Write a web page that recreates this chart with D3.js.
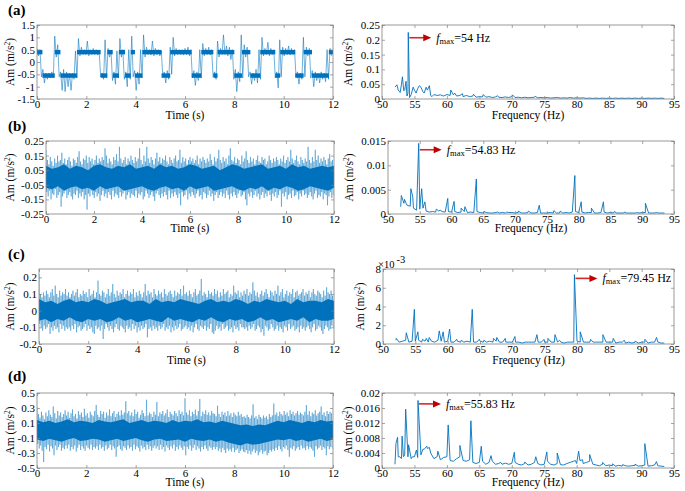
<!DOCTYPE html>
<html>
<head>
<meta charset="utf-8">
<script src="https://cdn.jsdelivr.net/npm/d3@7"></script>
<style>
  body { margin: 0; background: #fff; }
</style>
</head>
<body>
<div id="chart"></div>
<script>
// ---- data ----
const timeTicks = [0, 2, 4, 6, 8, 10, 12];
const freqTicks = [50, 55, 60, 65, 70, 75, 80, 85, 90, 95];

// (a): 100 bins of 0.12 s, upper / lower extreme per bin (m/s^2)
const hiA = [.55,.5,-.3,-.45,-.45,-.4,1.05,.7,-.4,-.3,
  -.4,-.45,-.45,.45,.95,.6,.5,.85,.5,.55,
  .5,.45,-.45,.9,.55,.45,-.4,.45,.95,.5,
  -.4,.5,1.05,-.35,-.4,.5,1.1,.6,.5,.85,
  .55,.5,.45,-.4,-.35,.6,1.0,.55,.5,.5,
  .55,.6,.5,-.35,-.4,.5,.75,.55,.6,.5,
  -.4,.85,.55,1.1,.65,.6,.5,-.3,-.4,1.1,
  .7,.6,-.4,-.45,-.3,.5,1.0,.55,.8,.55,
  .5,-.4,.9,.6,.55,.65,.55,.5,-.4,-.45,
  1.0,.6,.55,-.35,-.4,-.45,-.4,-.45,.5,.55];
const loA = [.25,-.6,-.85,-.7,-.65,-.65,.2,-.6,-1.15,-1.2,
  -1.0,-1.15,-.7,-.65,.25,.3,.3,.25,.3,.3,
  .28,-.6,-.7,-.65,.2,-.75,-.9,-.65,.2,-.7,
  -1.0,-.7,-.6,-1.15,-.9,-.65,.2,.3,.28,.25,
  .3,.25,-.6,-.85,-.7,-.5,.25,.3,.3,.28,
  .3,.25,-.65,-.95,-.75,-.65,.25,.3,.28,-.6,
  -.7,.2,.3,.3,.25,.1,-.7,-1.2,-.8,-.65,
  .2,-.6,-.9,-.75,-.85,-.7,.25,.3,.25,.3,
  -.65,-1.05,-.6,.25,.3,.28,.3,-.6,-.9,-.7,
  -.6,.25,-.65,-1.0,-.75,-.85,-.7,-.8,-.7,.25];
// switching instants of signal (a), first segment high
const edgesA = [0,.22,.72,.95,1.62,2.58,2.85,3.07,3.32,3.57,3.8,3.97,4.27,5.05,5.4,
  6.27,6.66,7.15,7.32,8.0,8.31,8.65,9.05,9.66,9.86,10.47,10.81,11.15,11.83,12];
const levelsA = [0.4, -0.55];
const bandA = 0.09;

// (b)-(d): 200 bins of 0.06 s, extremes in units of 0.01 m/s^2
const hiB = [19,12,9,14,11,8,13,10,15,11,12,17,10,13,9,12,14,11,8,13,
  12,10,14,18,11,9,13,12,15,10,14,11,13,9,12,15,10,13,11,14,
  12,20,15,10,13,11,9,14,12,16,11,21,13,10,12,14,9,13,11,15,
  12,10,14,11,13,20,12,9,15,11,21,13,10,14,12,9,13,17,11,14,
  10,13,12,15,11,9,14,12,10,13,15,11,12,19,10,14,11,13,9,12,
  14,11,13,10,12,15,9,13,11,14,12,10,13,11,16,12,9,14,11,13,
  19,12,10,14,11,13,9,15,20,12,11,14,10,13,12,9,15,11,13,18,
  12,10,14,11,13,9,12,15,11,10,14,12,13,9,11,15,12,10,13,11,
  14,12,9,13,11,15,10,12,14,11,19,13,10,12,15,11,9,14,12,10,
  13,11,21,12,10,14,11,19,12,15,10,13,11,14,12,9,13,16,11,12];
const loB = [-10,-13,-9,-15,-11,-12,-8,-14,-12,-10,-20,-13,-11,-9,-14,-12,-10,-13,-15,-11,
  -12,-9,-14,-11,-13,-10,-15,-12,-22,-11,-13,-9,-12,-14,-10,-13,-11,-16,-12,-9,
  -13,-11,-14,-10,-12,-15,-9,-13,-11,-12,-14,-10,-13,-11,-9,-15,-12,-10,-14,-11,
  -12,-13,-9,-14,-11,-12,-10,-15,-13,-9,-11,-14,-12,-10,-13,-16,-11,-9,-12,-14,
  -11,-13,-10,-12,-15,-9,-14,-11,-13,-10,-12,-14,-11,-19,-10,-13,-12,-9,-15,-11,
  -13,-10,-12,-14,-11,-9,-13,-12,-15,-10,-11,-14,-12,-9,-13,-11,-16,-12,-10,-14,
  -12,-10,-13,-11,-14,-9,-12,-15,-11,-13,-10,-12,-14,-11,-9,-13,-12,-10,-15,-19,
  -11,-13,-10,-14,-12,-9,-13,-11,-15,-12,-10,-14,-11,-13,-9,-12,-16,-11,-13,-10,
  -14,-12,-9,-20,-11,-13,-10,-15,-12,-11,-14,-9,-13,-12,-10,-15,-11,-13,-9,-12,
  -11,-14,-12,-10,-13,-15,-11,-9,-14,-12,-13,-10,-15,-11,-12,-19,-13,-10,-14,-12];
// dense core of the noisy signals, every 0.25 s, units of 0.01 m/s^2
const coreHiB = [8,6,7,9,6,8,7,5,8,9,7,6,8,7,9,6,7,8,6,9,7,8,6,7,9,8,6,7,8,5,7,9,8,6,7,8,9,6,7,8,6,9,7,8,6,7,8,7,8];
const coreLoB = [-7,-8,-6,-9,-7,-6,-8,-7,-9,-6,-8,-7,-6,-9,-8,-7,-6,-8,-9,-7,-6,-8,-7,-9,-6,-8,-7,-6,-9,-8,-7,-6,-8,-9,-7,-8,-6,-9,-7,-8,-6,-7,-9,-8,-6,-7,-8,-9,-7];

const hiC = [22,10,8,11,9,12,10,8,11,13,9,15,10,8,12,9,11,10,13,9,
  11,8,10,12,9,11,13,8,10,9,12,10,11,8,13,9,10,12,8,11,
  18,10,9,12,11,8,10,13,9,11,16,10,8,12,9,11,10,13,8,10,
  12,9,11,10,13,8,11,9,12,10,8,11,16,9,12,10,11,8,13,10,
  9,12,10,11,8,13,10,9,11,12,10,8,12,9,11,10,13,9,15,10,
  11,9,12,10,8,11,13,9,10,12,19,9,11,10,8,12,10,11,9,13,
  10,12,8,11,9,13,10,11,12,8,10,9,15,11,10,12,8,11,9,12,
  10,13,9,11,10,17,12,9,11,8,10,12,9,11,13,10,8,12,11,9,
  12,10,15,9,11,13,8,10,12,9,11,10,13,8,11,12,9,10,11,13,
  9,11,10,12,8,11,13,10,9,12,11,10,8,12,9,14,11,10,12,9];
const loC = [-8,-10,-12,-9,-11,-10,-8,-14,-10,-12,-9,-11,-10,-13,-8,-11,-9,-12,-10,-11,
  -10,-12,-9,-11,-8,-13,-10,-9,-12,-11,-10,-8,-12,-9,-11,-10,-13,-14,-9,-11,
  -10,-12,-9,-17,-11,-8,-10,-12,-9,-11,-13,-10,-8,-11,-12,-9,-10,-11,-13,-9,
  -11,-10,-12,-8,-11,-9,-13,-10,-12,-9,-11,-10,-8,-16,-11,-10,-12,-9,-11,-10,
  -12,-9,-11,-10,-8,-12,-10,-11,-9,-13,-10,-12,-9,-11,-10,-8,-12,-11,-10,-9,
  -11,-10,-12,-9,-13,-10,-8,-11,-12,-9,-10,-11,-9,-12,-10,-11,-8,-13,-14,-12,
  -9,-11,-10,-12,-8,-11,-10,-9,-12,-11,-10,-13,-9,-11,-10,-12,-8,-10,-10,-11,
  -10,-12,-9,-11,-10,-8,-12,-11,-9,-10,-13,-11,-15,-9,-10,-12,-11,-8,-10,-12,
  -11,-9,-12,-10,-11,-13,-9,-10,-12,-8,-11,-10,-9,-12,-11,-10,-13,-9,-11,-10,
  -12,-10,-9,-11,-13,-10,-8,-12,-11,-9,-10,-12,-14,-11,-9,-10,-12,-11,-9,-10];
const coreHiC = [7,5,6,4,6,7,5,6,5,7,6,4,5,6,7,5,6,6,4,7,5,6,5,7,6,5,4,6,7,5,6,5,7,6,4,6,5,7,6,5,6,4,7,5,6,6,5,7,6];
const coreLoC = [-6,-5,-7,-5,-6,-4,-6,-7,-5,-6,-5,-7,-6,-4,-6,-5,-7,-6,-5,-6,-7,-4,-6,-5,-6,-7,-5,-6,-4,-6,-7,-5,-6,-5,-7,-6,-4,-6,-5,-7,-6,-5,-6,-4,-7,-5,-6,-6,-5];

const hiD = [32,22,17,25,20,15,24,19,27,21,18,32,23,16,26,20,24,18,22,27,
  20,25,17,23,28,19,22,16,26,21,24,18,29,20,23,17,25,21,19,26,
  34,21,18,26,22,25,17,24,20,28,19,23,26,18,22,25,20,27,21,24,
  39,23,26,20,24,19,28,22,25,17,21,27,23,19,41,20,24,22,18,25,
  21,38,19,24,22,26,20,23,28,18,25,22,20,26,23,19,27,22,25,20,
  43,24,21,27,19,25,22,28,20,26,42,19,25,22,27,21,24,20,26,23,
  22,19,33,22,18,25,21,24,19,26,20,23,18,24,21,19,25,20,22,18,
  19,17,21,18,16,20,35,17,19,15,21,18,16,20,17,19,15,22,18,20,
  36,21,24,19,25,22,20,26,21,24,19,27,22,25,20,23,26,21,24,22,
  20,25,34,21,26,19,24,22,27,20,23,25,32,21,24,19,26,22,25,23];
const loD = [-18,-24,-20,-27,-42,-22,-25,-19,-28,-21,-24,-33,-20,-26,-22,-19,-27,-23,-25,-20,
  -24,-19,-27,-22,-25,-20,-28,-23,-19,-26,-21,-24,-27,-20,-23,-25,-19,-26,-22,-24,
  -21,-26,-19,-24,-22,-27,-20,-25,-23,-19,-26,-21,-24,-35,-22,-20,-25,-27,-21,-23,
  -26,-20,-24,-22,-27,-19,-25,-21,-23,-28,-20,-24,-22,-26,-19,-25,-21,-27,-23,-20,
  -24,-21,-26,-19,-25,-22,-28,-20,-23,-26,-21,-24,-19,-27,-22,-25,-20,-23,-26,-21,
  -33,-22,-25,-20,-27,-23,-19,-26,-21,-24,-28,-22,-25,-20,-24,-27,-21,-23,-26,-22,
  -25,-22,-27,-24,-29,-23,-26,-30,-24,-27,-25,-28,-23,-29,-26,-24,-30,-27,-25,-28,
  -29,-26,-31,-27,-32,-28,-25,-30,-27,-33,-29,-26,-31,-28,-27,-33,-30,-26,-28,-25,
  -27,-23,-26,-21,-25,-28,-22,-24,-20,-26,-35,-23,-25,-21,-27,-24,-22,-26,-20,-24,
  -23,-26,-21,-25,-22,-24,-27,-35,-21,-25,-23,-20,-26,-22,-24,-33,-21,-25,-22,-24];
const coreHiD = [14,11,13,10,12,15,11,13,12,10,14,12,11,13,15,10,12,14,11,13,12,10,14,11,13,12,15,11,12,10,13,11,9,7,8,6,8,7,10,13,11,14,12,10,13,11,14,12,13];
const coreLoD = [-12,-14,-11,-13,-15,-12,-10,-14,-13,-11,-12,-15,-13,-11,-14,-12,-10,-13,-15,-12,-11,-14,-13,-12,-15,-11,-13,-14,-12,-15,-13,-16,-18,-20,-17,-19,-18,-16,-14,-12,-13,-11,-14,-12,-15,-13,-11,-14,-12];

// spectra: floor every 0.5 Hz from 52 Hz to 93.5 Hz, plus [Hz, amplitude] peaks
const specBaseA = [.040,.030,.050,.030,.020,.015,.030,.035,.040,.020,
  .030,.012,.015,.012,.014,.010,.015,.012,.014,.010,
  .012,.008,.012,.008,.010,.006,.008,.007,.006,.008,
  .005,.007,.006,.005,.007,.005,.008,.005,.006,.004,
  .006,.004,.005,.006,.004,.005,.004,.005,.003,.004,
  .005,.003,.004,.003,.005,.003,.004,.003,.004,.002,
  .003,.002,.003,.002,.003,.002,.003,.002,.003,.002,
  .003,.002,.003,.002,.003,.002,.003,.002,.003,.002,
  .003,.002,.003,.002];
const peaksA = [[52.3,.048],[52.8,.022],[53.15,.075],[53.35,.028],[53.7,.06],[53.85,.01],
  [54.05,.225],[54.25,.005],[54.8,.04],[55.25,.02],[55.75,.045],[56.3,.025],[56.8,.04],
  [57.3,.045],[57.7,.008],[60.6,.03],[61.2,.02],[62.4,.018],[64.1,.016],[65.6,.015],
  [67.8,.011],[70.1,.014],[73.6,.009]];

const specBaseB = [.0015,.0022,.0018,.0016,.0012,.0008,.0010,.0012,.0006,.0004,
  .0005,.0004,.0006,.0005,.0004,.0005,.0004,.0005,.0003,.0004,
  .0005,.0003,.0004,.0003,.0005,.0003,.0002,.0003,.0002,.0002,
  .0003,.0002,.0003,.0002,.0003,.0003,.0002,.0003,.0002,.0002,
  .0003,.0002,.0002,.0003,.0002,.0002,.0002,.0003,.0002,.0002,
  .0002,.0002,.0003,.0002,.0004,.0005,.0003,.0004,.0002,.0003,
  .0003,.0002,.0002,.0003,.0004,.0002,.0003,.0002,.0002,.0002,
  .0002,.0002,.0002,.0002,.0002,.0002,.0003,.0003,.0002,.0002,
  .0002,.0002,.0002,.0002];
const peaksB = [[52.1,.0038],[52.35,.0028],[52.6,.0030],[52.85,.0022],[53.6,.0052],[53.9,.0035],
  [54.83,.0145],[55.3,.0052],[55.8,.0025],[57.6,.0010],[58.2,.0008],[59.4,.0032],[60.4,.0026],
  [61.5,.0012],[62.1,.0015],[63.9,.0072],[65.1,.0005],[67.2,.0004],[68.7,.0004],[70.5,.0006],
  [72.1,.0006],[73.8,.0018],[76.1,.0007],[77.1,.0006],[79.4,.0079],[80.4,.0025],[82.0,.0012],
  [83.9,.0025],[85.6,.0005],[87.3,.0004],[89.1,.0003],[90.5,.0022],[92.2,.0003]];

const specBaseC = [.0004,.0002,.0003,.0004,.0002,.0003,.0003,.0004,.0002,.0003,
  .0002,.0003,.0002,.0004,.0003,.0002,.0003,.0002,.0002,.0003,
  .0002,.0002,.0003,.0002,.0002,.0002,.0003,.0002,.0002,.0003,
  .0002,.0003,.0002,.0002,.0002,.0002,.0002,.0002,.0002,.0001,
  .0002,.0002,.0002,.0002,.0002,.0002,.0002,.0002,.0002,.0002,
  .0002,.0002,.0001,.0002,.0002,.0002,.0003,.0002,.0002,.0002,
  .0002,.0002,.0002,.0002,.0002,.0002,.0002,.0002,.0001,.0002,
  .0002,.0001,.0002,.0001,.0002,.0001,.0002,.0002,.0001,.0002,
  .0002,.0002,.0001,.0001];
const peaksC = [[52.05,.0006],[53.6,.0012],[54.85,.0037],[55.4,.0013],[56.1,.0005],[56.7,.0006],
  [57.15,.0007],[58.7,.0014],[59.3,.0013],[60.3,.0016],[61.4,.0005],[62.1,.0004],[63.8,.0037],
  [64.9,.0005],[65.6,.0004],[67.1,.0006],[67.6,.0007],[68.9,.0006],[70.4,.0008],[73.8,.0010],
  [74.9,.0005],[75.5,.0006],[76.6,.0010],[77.3,.0004],[79.6,.0074],[80.5,.0013],[82.1,.0005],
  [84.0,.0010],[85.6,.0006],[87.3,.0004],[89.0,.0003],[90.5,.0005],[92.3,.0007]];

const specBaseD = [.0010,.0030,.0025,.0035,.0030,.0025,.0030,.0028,.0035,.0050,
  .0052,.0040,.0025,.0030,.0022,.0028,.0030,.0020,.0018,.0025,
  .0030,.0020,.0018,.0022,.0015,.0012,.0015,.0018,.0010,.0015,
  .0018,.0010,.0012,.0010,.0013,.0010,.0012,.0015,.0010,.0008,
  .0012,.0008,.0010,.0015,.0012,.0008,.0010,.0018,.0010,.0008,
  .0012,.0009,.0008,.0012,.0015,.0018,.0012,.0020,.0012,.0015,
  .0018,.0010,.0008,.0006,.0010,.0006,.0008,.0006,.0005,.0007,
  .0005,.0006,.0005,.0006,.0007,.0005,.0006,.0008,.0005,.0006,
  .0008,.0006,.0005,.0004];
const peaksD = [[52.15,.0065],[52.4,.0082],[52.75,.0030],[53.1,.0085],[53.3,.0030],[53.65,.0157],
  [54.1,.0062],[54.7,.0030],[55.3,.0048],[55.55,.0180],[56.3,.0050],[56.9,.0058],[57.3,.0055],
  [58.6,.0045],[60.2,.0115],[62.0,.0060],[63.7,.0126],[65.3,.0058],[66.8,.0033],[68.3,.0015],
  [70.4,.0042],[72.0,.0016],[73.7,.0030],[75.4,.0043],[77.0,.0040],[79.8,.0020],[80.3,.0045],
  [80.9,.0022],[82.0,.0036],[84.0,.0015],[85.5,.0011],[87.1,.0009],[89.0,.0010],[90.5,.0065],
  [92.3,.0017]];

const fmaxHz = [54.05, 54.83, 79.6, 55.55];
const fmaxText = ["=54 Hz", "=54.83 Hz", "=79.45 Hz", "=55.83 Hz"];
const arrowAmp = [0.207, 0.0132, 0.0070, 0.0171];

// ---- drawing ----
const width = 685;
const height = 491;
const font = "'Liberation Serif', 'Times New Roman', serif";
const blue = "#0072BD";
const axisColor = "#808080";
const fStart = 52;
const fStep = 0.5;
const coreDt = 0.25;

const svg = d3.select("#chart").append("svg")
  .attr("width", width).attr("height", height)
  .style("font-family", font);

const numFmt = (d) => String(+d.toFixed(4));

// zigzag through the per-bin extremes
const zig = (hi, lo, unit) => {
  const dt = 12 / hi.length;
  return hi.flatMap((h, i) => [[i * dt, h * unit], [i * dt + dt / 2, lo[i] * unit]]);
};
const spec = (base, peaks) =>
  base.map((v, i) => [fStart + i * fStep, v]).concat(peaks).sort((p, q) => p[0] - q[0]);

function drawFrame(g, b, x, y, xTicks, yTicks, yFmt) {
  const [x0, x1, y0, y1] = b;
  const style = (sel) => {
    sel.select(".domain").remove();
    sel.selectAll(".tick line").attr("stroke", axisColor).attr("stroke-width", 0.7);
    sel.selectAll(".tick text").attr("fill", "#000")
      .style("font-family", font).style("font-size", "11px");
  };
  g.append("g").attr("transform", `translate(0,${y1})`)
    .call(d3.axisBottom(x).tickValues(xTicks).tickFormat(d3.format("d"))
      .tickSizeInner(-3).tickSizeOuter(0).tickPadding(1)).call(style);
  g.append("g").attr("transform", `translate(0,${y0})`)
    .call(d3.axisTop(x).tickValues(xTicks).tickFormat("")
      .tickSizeInner(-3).tickSizeOuter(0)).call(style);
  g.append("g").attr("transform", `translate(${x0},0)`)
    .call(d3.axisLeft(y).tickValues(yTicks).tickFormat(yFmt)
      .tickSizeInner(-3).tickSizeOuter(0).tickPadding(2)).call(style);
  g.append("g").attr("transform", `translate(${x1},0)`)
    .call(d3.axisRight(y).tickValues(yTicks).tickFormat("")
      .tickSizeInner(-3).tickSizeOuter(0)).call(style);
  g.append("rect")
    .attr("x", x0).attr("y", y0).attr("width", x1 - x0).attr("height", y1 - y0)
    .attr("fill", "none").attr("stroke", axisColor).attr("stroke-width", 0.8);
}

function labels(g, b, xTitle, xTitleY, yTitleX) {
  const [x0, x1, y0, y1] = b;
  g.append("text")
    .attr("x", (x0 + x1) / 2).attr("y", xTitleY)
    .attr("text-anchor", "middle").style("font-size", "11.5px")
    .text(xTitle);
  const yl = g.append("text")
    .attr("transform", `translate(${yTitleX},${(y0 + y1) / 2}) rotate(-90)`)
    .attr("text-anchor", "middle").style("font-size", "11.5px");
  yl.append("tspan").text("Am (m/s");
  yl.append("tspan").attr("dy", -4).style("font-size", "7.5px").text("2");
  yl.append("tspan").attr("dy", 4).text(")");
}

let clipId = 0;
function clipTo(g, b) {
  const id = "clip" + clipId++;
  g.append("clipPath").attr("id", id).append("rect")
    .attr("x", b[0]).attr("y", b[2]).attr("width", b[1] - b[0]).attr("height", b[3] - b[2]);
  return g.append("g").attr("clip-path", `url(#${id})`);
}

function timePanel(p) {
  const g = svg.append("g");
  const x = d3.scaleLinear().domain([0, 12]).range([p.box[0], p.box[1]]);
  const y = d3.scaleLinear().domain(p.yDom).range([p.box[3], p.box[2]]);
  const plot = clipTo(g, p.box);
  const line = d3.line().x((d) => x(d[0])).y((d) => y(d[1]));

  plot.append("path").datum(zig(p.hi, p.lo, p.unit))
    .attr("d", line).attr("fill", "none")
    .attr("stroke", blue).attr("stroke-width", p.lineW).attr("stroke-opacity", 0.8);

  if (p.edges) {
    const segs = d3.pairs(p.edges).map((e, i) => ({ t0: e[0], t1: e[1], v: p.levels[i % 2] }));
    plot.selectAll("rect.core").data(segs).join("rect")
      .attr("x", (d) => x(d.t0)).attr("width", (d) => x(d.t1) - x(d.t0))
      .attr("y", (d) => y(d.v + p.band)).attr("height", (d) => y(d.v - p.band) - y(d.v + p.band))
      .attr("fill", blue);
  } else {
    const area = d3.area()
      .x((d, i) => x(i * coreDt))
      .y0((d, i) => y(p.coreLo[i] * p.unit))
      .y1((d) => y(d * p.unit));
    plot.append("path").datum(p.coreHi).attr("d", area).attr("fill", blue);
  }

  drawFrame(g, p.box, x, y, timeTicks, p.yTicks, numFmt);
  labels(g, p.box, "Time (s)", p.xTitleY, p.yTitleX);
  g.append("text").attr("x", 8).attr("y", p.letterY)
    .style("font-size", "15px").style("font-weight", "bold").text(p.letter);
}

function specPanel(p, k) {
  const g = svg.append("g");
  const x = d3.scaleLinear().domain([50, 95]).range([p.box[0], p.box[1]]);
  const y = d3.scaleLinear().domain(p.yDom).range([p.box[3], p.box[2]]);
  const plot = clipTo(g, p.box);

  const line = d3.line().x((d) => x(d[0])).y((d) => y(d[1]));
  plot.append("path").datum(spec(p.base, p.peaks))
    .attr("d", line).attr("fill", "none")
    .attr("stroke", blue).attr("stroke-width", 0.9);

  drawFrame(g, p.box, x, y, freqTicks, p.yTicks, p.yFmt || numFmt);
  labels(g, p.box, "Frequency (Hz)", p.xTitleY, p.yTitleX);

  // red arrow + f_max text
  const ax = x(fmaxHz[k]) + 1;
  const ay = y(arrowAmp[k]);
  g.append("line").attr("x1", ax).attr("x2", ax + 15).attr("y1", ay).attr("y2", ay)
    .attr("stroke", "#d42a2a").attr("stroke-width", 1.6);
  g.append("path")
    .attr("d", `M${ax + 14},${ay - 3.5}L${ax + 22},${ay}L${ax + 14},${ay + 3.5}Z`)
    .attr("fill", "#c00000");
  const t = g.append("text").attr("x", ax + 27).attr("y", ay + 4).style("font-size", "12px");
  t.append("tspan").style("font-style", "italic").text("f");
  t.append("tspan").attr("dy", 2).style("font-size", "8.5px").text("max");
  t.append("tspan").attr("dy", -2).text(fmaxText[k]);

  if (p.exponent) {
    const e = g.append("text").attr("x", p.box[0] - 5).attr("y", p.box[2] - 1.5).style("font-size", "10.5px");
    e.append("tspan").text("\u00d710");
    e.append("tspan").attr("dy", -5).attr("dx", 2).text("-3");
  }
}

timePanel({ box: [37, 333, 25, 99], yDom: [-1.5, 1.5], yTicks: [-1.5, -1, -0.5, 0, 0.5, 1, 1.5],
  hi: hiA, lo: loA, unit: 1, lineW: 0.7, edges: edgesA, levels: levelsA, band: bandA,
  letter: "(a)", letterY: 15, xTitleY: 118.5, yTitleX: 13.5 });
timePanel({ box: [46, 334, 141, 214], yDom: [-0.25, 0.25], yTicks: [-0.25, -0.15, -0.05, 0.05, 0.15, 0.25],
  hi: hiB, lo: loB, unit: 0.01, lineW: 0.5, coreHi: coreHiB, coreLo: coreLoB,
  letter: "(b)", letterY: 131, xTitleY: 231.5, yTitleX: 13.5 });
timePanel({ box: [39, 334, 269, 344], yDom: [-0.2, 0.25], yTicks: [-0.2, -0.1, 0, 0.1, 0.2],
  hi: hiC, lo: loC, unit: 0.01, lineW: 0.5, coreHi: coreHiC, coreLo: coreLoC,
  letter: "(c)", letterY: 259, xTitleY: 364, yTitleX: 13.5 });
timePanel({ box: [37, 333, 393, 468], yDom: [-0.5, 0.5], yTicks: [-0.5, -0.3, -0.1, 0.1, 0.3, 0.5],
  hi: hiD, lo: loD, unit: 0.01, lineW: 0.5, coreHi: coreHiD, coreLo: coreLoD,
  letter: "(d)", letterY: 381, xTitleY: 486, yTitleX: 13.5 });

specPanel({ box: [382, 674, 25, 99], yDom: [0, 0.25], yTicks: [0, 0.05, 0.1, 0.15, 0.2, 0.25],
  base: specBaseA, peaks: peaksA, xTitleY: 118.5, yTitleX: 351.5 }, 0);
specPanel({ box: [388, 674, 141, 214], yDom: [0, 0.015], yTicks: [0, 0.005, 0.01, 0.015],
  base: specBaseB, peaks: peaksB, xTitleY: 231.5, yTitleX: 352.5 }, 1);
specPanel({ box: [383, 674, 269, 344], yDom: [0, 0.008], yTicks: [0, 0.002, 0.004, 0.006, 0.008],
  yFmt: (d) => String(Math.round(d * 1000)), exponent: true,
  base: specBaseC, peaks: peaksC, xTitleY: 364, yTitleX: 363.5 }, 2);
specPanel({ box: [382, 674, 393, 468], yDom: [0, 0.02], yTicks: [0, 0.004, 0.008, 0.012, 0.016, 0.02],
  base: specBaseD, peaks: peaksD, xTitleY: 486, yTitleX: 351.5 }, 3);
</script>
</body>
</html>
